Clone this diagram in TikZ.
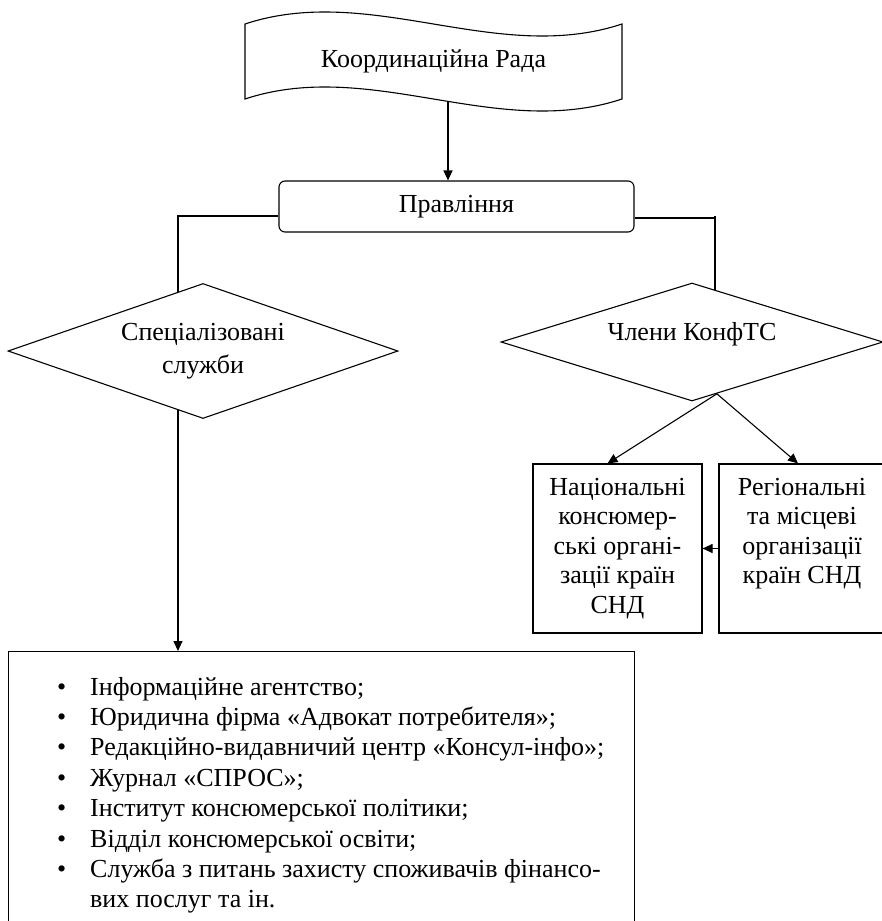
\documentclass[tikz,border=0pt]{standalone}
\usepackage{fontspec}
\setmainfont{Liberation Serif}
\usetikzlibrary{shapes.geometric,arrows.meta,calc}
\tikzset{
  ln/.style={line width=1.1pt},
  arr/.style={ln,-{Triangle[length=10pt,width=9pt]}},
  txt/.style={font=\fontsize{26}{30}\selectfont,align=center,inner sep=0pt},
  dia/.style={diamond,draw,ln,inner sep=0pt,shape aspect=3},
  boxn/.style={draw,ln,inner sep=0pt},
}
\begin{document}
\begin{tikzpicture}[x=1pt,y=-1pt]
\useasboundingbox (0,0) rectangle (882,921);
\clip (0,0) rectangle (882,921);
% banner
\draw[ln] (245,24) .. controls (370.7,-17.6) and (496.3,65.6) .. (622,24)
  -- (622,99) .. controls (496.3,140.6) and (370.7,57.4) .. (245,99) -- cycle;
\node[txt] (rada) at (433.5,61) {Координаційна Рада};
\coordinate (radab) at (448,101.5);
% board
\node[boxn,txt,rounded corners=6pt,minimum width=355pt,minimum height=51pt] (prav) at (456.5,206.5) {Правління};
\draw[arr] (radab) -- (radab |- prav.north);
% diamonds
\node[dia,txt,font=\fontsize{26}{33}\selectfont,minimum width=390pt,minimum height=135pt] (sp) at (203,351) {Спеціалізовані\\служби};
\node[dia,minimum width=382pt,minimum height=118pt] (cl) at (692,342) {};
\node[txt] (clt) at (692,334) {Члени КонфТС};
% connectors from board
\coordinate (spin) at ($(sp.west)!0.872!(sp.north)$);
\draw[ln] (prav.west |- 0,216) -| (spin);
\coordinate (clin) at ($(cl.north)!0.12!(cl.east)$);
\draw[ln] (prav.east |- 0,218) -- (clin |- 0,218);
\draw[ln] (clin |- 0,215.5) -- (clin);
% member boxes
\node[boxn,txt,font=\fontsize{26}{29.5}\selectfont,minimum width=169pt,minimum height=169pt] (nac) at (617.5,548.5)
  {Національні\\консюмер-\\ські органі-\\зації країн\\СНД};
\node[boxn,txt,font=\fontsize{26}{29.5}\selectfont,minimum width=166pt,minimum height=169pt] (reg) at (802,548.5)
  {Регіональні\\та місцеві\\організації\\країн СНД\\\vphantom{Д}};
\coordinate (clout) at ($(cl.south)!0.13!(cl.east)$);
\draw[arr] (clout) -- ([xshift=-10pt]nac.north);
\draw[arr] (clout) -- ([xshift=-4pt]reg.north);
\draw[arr] (reg.west) -- (nac.east);
% services list
\node[boxn,minimum width=626pt,minimum height=300pt,anchor=north west] (lst) at (8,651) {};
\coordinate (spout) at ($(sp.south)!0.128!(sp.west)$);
\draw[arr] (spout) -- (spout |- lst.north);
\node[anchor=base west,inner sep=0pt,font=\fontsize{26}{30.4}\selectfont] (items) at (57,695)
{\begin{tabular}[t]{@{}p{33pt}@{}l@{}}
• & Інформаційне агентство;\\
• & Юридична фірма «Адвокат потребителя»;\\
• & Редакційно-видавничий центр «Консул-інфо»;\\
• & Журнал «СПРОС»;\\
• & Інститут консюмерської політики;\\
• & Відділ консюмерської освіти;\\
• & Служба з питань захисту споживачів фінансо-\\
  & вих послуг та ін.
\end{tabular}};
\end{tikzpicture}
\end{document}
